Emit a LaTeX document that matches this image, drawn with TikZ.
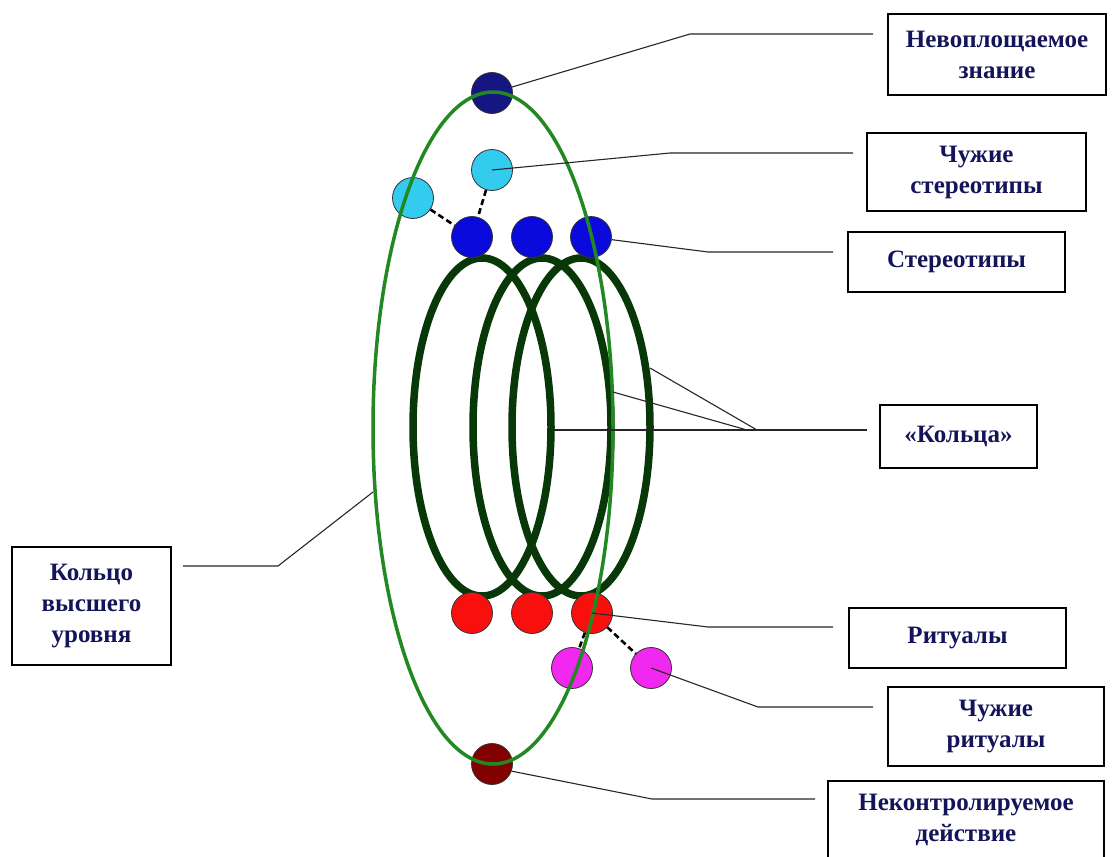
\documentclass[tikz,border=0pt]{standalone}
\usepackage{fontspec}
\setmainfont{Liberation Serif}
\definecolor{navyc}{RGB}{22,22,130}
\definecolor{skyc}{RGB}{51,204,238}
\definecolor{bluec}{RGB}{10,10,220}
\definecolor{redc}{RGB}{250,15,15}
\definecolor{pinkc}{RGB}{240,40,240}
\definecolor{maroonc}{RGB}{130,0,0}
\definecolor{ringc}{RGB}{8,55,8}
\definecolor{outerc}{RGB}{34,136,34}
\definecolor{textc}{RGB}{20,20,90}
\begin{document}
\begin{tikzpicture}[x=1pt,y=-1pt,
  dot/.style={circle,draw=black!80,line width=0.8pt,minimum size=41pt,inner sep=0pt},
  labelbox/.style={draw,line width=1.3pt,align=center,text=textc,inner sep=0pt,
    font=\bfseries\fontsize{25}{31}\selectfont},
  lead/.style={line width=1.1pt,black!85},
  dashlink/.style={line width=2.6pt,dash pattern=on 6pt off 3.5pt}]
\useasboundingbox (0,0) rectangle (1117,857);
% rings
\draw[ringc,line width=7.5pt] (482,427) ellipse [x radius=69pt,y radius=169pt];
\draw[ringc,line width=7.5pt] (542,427) ellipse [x radius=69pt,y radius=169pt];
\draw[ringc,line width=7.5pt] (581,427) ellipse [x radius=69pt,y radius=169pt];
% dots
\node (nz) at (492,93) [dot,fill=navyc] {};
\node (sk) at (492,170) [dot,fill=skyc] {};
\node (s1) at (413,198) [dot,fill=skyc] {};
\node (b1) at (472,237) [dot,fill=bluec] {};
\node (b2) at (532,237) [dot,fill=bluec] {};
\node (b3) at (591,237) [dot,fill=bluec] {};
\node (r1) at (472,613) [dot,fill=redc] {};
\node (r2) at (532,613) [dot,fill=redc] {};
\node (r3) at (592,613) [dot,fill=redc] {};
\node (p1) at (572,668) [dot,fill=pinkc] {};
\node (p2) at (651,668) [dot,fill=pinkc] {};
\node (mr) at (492,764) [dot,fill=maroonc] {};
% outer ring
\draw[outerc,line width=3.5pt] (493,428) ellipse [x radius=120pt,y radius=336pt];
\draw[dashlink] (s1) -- (b1);
\draw[dashlink] (sk) -- (b1);
\draw[dashlink] (r3) -- (p2);
\draw[dashlink] (r3) -- (p1);
% labels
\node (tnz) at (997,54.5) [labelbox,minimum width=218pt,minimum height=81pt] {Невоплощаемое\\знание};
\node (tsk) at (976.5,172) [labelbox,minimum width=219pt,minimum height=78pt] {Чужие\\стереотипы};
\node (tst) at (956.5,262) [labelbox,minimum width=217pt,minimum height=60pt] {Стереотипы};
\node (tkl) at (958.5,436.5) [labelbox,minimum width=157pt,minimum height=63pt] {«Кольца»};
\node (tvy) at (91.5,606) [labelbox,minimum width=159pt,minimum height=118pt] {Кольцо\\высшего\\уровня};
\node (tri) at (957.5,638) [labelbox,minimum width=217pt,minimum height=60pt] {Ритуалы};
\node (tcr) at (996,726.5) [labelbox,minimum width=216pt,minimum height=79pt] {Чужие\\ритуалы};
\node (tnk) at (966,820) [labelbox,minimum width=276pt,minimum height=78pt] {Неконтролируемое\\действие};
% leads
\coordinate (kr1) at (551,430);
\coordinate (kr2) at (613,392);
\coordinate (kr3) at (650,368);
\coordinate (ko) at (373,492);
\draw[lead] (nz) -- (690,34) -- (873,34);
\draw[lead] (sk.center) -- (670,153) -- (853,153);
\draw[lead] (b3) -- (708,252) -- (833,252);
\draw[lead] (kr1) -- (867,430);
\draw[lead] (kr2) -- (747,430);
\draw[lead] (kr3) -- (757,430);
\draw[lead] (183,566) -- (278,566) -- (ko);
\draw[lead] (r3.center) -- (708,627) -- (833,627);
\draw[lead] (p2.center) -- (758,707) -- (873,707);
\draw[lead] (mr.-20) -- (652,799) -- (815,799);
\end{tikzpicture}
\end{document}
